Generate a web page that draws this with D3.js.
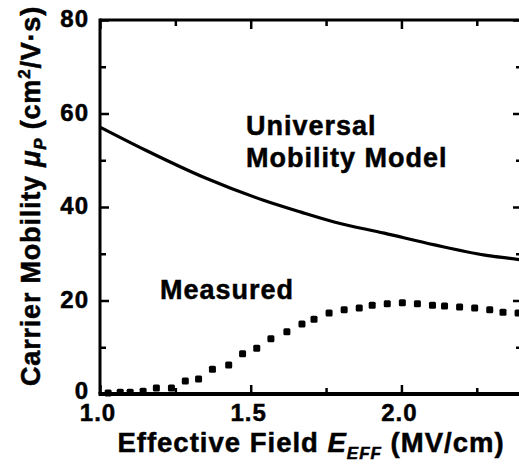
<!DOCTYPE html>
<html lang="en">
<head>
  <title>Carrier Mobility vs Effective Field</title>
  <meta charset="utf-8">
  <style>
    body { margin: 0; background: #fff; }
    svg text { font-family: "Liberation Sans", Arial, sans-serif; font-weight: bold; fill: #000;
               stroke: #000; stroke-width: 0.5px; }
    .axis path, .axis line { stroke: #000; }
  </style>
  <script src="https://d3js.org/d3.v7.min.js"></script>
</head>
<body>
<svg width="519" height="469"></svg>
<script>
// field values (MV/cm) and mobility (cm^2/V.s)
var modelField    = [1.0, 1.15, 1.35, 1.54, 1.667, 1.777, 1.943, 2.11, 2.277, 2.393, 2.42];
var modelMobility = [57.1, 52.2, 46.2, 41.5, 38.9, 36.8, 34.4, 31.9, 29.7, 28.7, 28.4];

var measField = [1.027, 1.067, 1.10, 1.143, 1.187, 1.237, 1.283, 1.327, 1.373, 1.427,
                 1.473, 1.520, 1.567, 1.620, 1.670, 1.710, 1.760, 1.810, 1.860, 1.903,
                 1.953, 2.003, 2.053, 2.103, 2.143, 2.193, 2.243, 2.293, 2.337, 2.387];
var measMobility = [0.2, 0.4, 0.4, 0.6, 1.3, 1.3, 2.8, 3.2, 5.3, 6.2,
                    8.6, 9.8, 11.8, 13.3, 15.0, 16.0, 17.3, 18.0, 18.4, 19.0,
                    19.3, 19.5, 19.3, 19.0, 18.8, 18.6, 18.4, 18.0, 17.5, 17.3];

var xMajor = [1.0, 1.5, 2.0];
var xMinor = [1.25, 1.75, 2.25];
var yMajor = [0, 20, 40, 60, 80];
var yMinor = [10, 30, 50, 70];

var svg = d3.select("svg"),
    pL = 100, pR = 522, pT = 20, pB = 394;

var x = d3.scaleLinear().domain([1.0, 2.4]).range([pL, pR]),
    y = d3.scaleLinear().domain([0, 80]).range([pB, pT]);

// frame ticks (pointing inward)
function ticks(g, axis, vals, len) {
  g.call(axis.tickValues(vals).tickSize(len).tickSizeOuter(0).tickFormat(""));
  g.select(".domain").remove();
  g.selectAll(".tick line").attr("stroke-width", 2.5);
}
[[xMajor, 9], [xMinor, 6]].forEach(function(t) {
  svg.append("g").attr("class", "axis").attr("transform", "translate(0," + pB + ")")
     .call(function(g) { ticks(g, d3.axisBottom(x), t[0], -t[1]); });
  svg.append("g").attr("class", "axis").attr("transform", "translate(0," + pT + ")")
     .call(function(g) { ticks(g, d3.axisTop(x), t[0], -t[1]); });
});
[[yMajor, 9], [yMinor, 6]].forEach(function(t) {
  svg.append("g").attr("class", "axis").attr("transform", "translate(" + pL + ",0)")
     .call(function(g) { ticks(g, d3.axisLeft(y), t[0], -t[1]); });
  svg.append("g").attr("class", "axis").attr("transform", "translate(" + pR + ",0)")
     .call(function(g) { ticks(g, d3.axisRight(y), t[0], -t[1]); });
});

// frame lines
svg.append("line").attr("x1", pL).attr("x2", pR).attr("y1", pT).attr("y2", pT)
   .attr("stroke", "#000").attr("stroke-width", 3);
svg.append("line").attr("x1", pL - 1.5).attr("x2", pR).attr("y1", pB).attr("y2", pB)
   .attr("stroke", "#000").attr("stroke-width", 4);
svg.append("line").attr("x1", pL).attr("x2", pL).attr("y1", pT - 1.5).attr("y2", pB)
   .attr("stroke", "#000").attr("stroke-width", 3);
svg.append("line").attr("x1", pR).attr("x2", pR).attr("y1", pT).attr("y2", pB)
   .attr("stroke", "#000").attr("stroke-width", 3);

// tick labels
svg.selectAll(".xl").data(xMajor).enter().append("text")
   .attr("x", function(d) { return x(d) - 2; })
   .attr("y", 421)
   .attr("text-anchor", "middle")
   .style("font-size", "24px")
   .style("letter-spacing", "1px")
   .text(function(d) { return d.toFixed(1); });

svg.selectAll(".yl").data(yMajor).enter().append("text")
   .attr("x", 89)
   .attr("y", function(d) { return y(d) + (d === 0 ? 5 : 7); })
   .attr("text-anchor", "end")
   .style("font-size", "24px")
   .style("letter-spacing", "1px")
   .text(function(d) { return d; });

// universal mobility model curve
var line = d3.line()
  .x(function(d, i) { return x(modelField[i]); })
  .y(function(d) { return y(d); })
  .curve(d3.curveMonotoneX);
svg.append("path").datum(modelMobility)
   .attr("d", line)
   .attr("fill", "none")
   .attr("stroke", "#000")
   .attr("stroke-width", 3.2);

// measured points
svg.selectAll(".pt").data(measMobility).enter().append("rect")
   .attr("x", function(d, i) { return x(measField[i]) - 3.5; })
   .attr("y", function(d) { return y(d) - 3.5; })
   .attr("width", 7).attr("height", 7)
   .attr("rx", 1.5)
   .attr("fill", "#000");

// annotations
svg.append("text").attr("x", 246).attr("y", 135)
   .style("font-size", "27px").style("letter-spacing", "1px").text("Universal");
svg.append("text").attr("x", 246).attr("y", 167)
   .style("font-size", "27px").style("letter-spacing", "1px").text("Mobility Model");
svg.append("text").attr("x", 160).attr("y", 299)
   .style("font-size", "27px").style("letter-spacing", "1px").text("Measured");

// x axis title
var xt = svg.append("text").attr("x", 311).attr("y", 452)
   .attr("text-anchor", "middle").style("font-size", "27.5px").style("letter-spacing", "1px");
xt.append("tspan").text("Effective Field ");
xt.append("tspan").style("font-style", "italic").text("E");
xt.append("tspan").attr("dy", 7).style("font-style", "italic").style("font-size", "17px").text("EFF");
xt.append("tspan").attr("dy", -7).text(" (MV/cm)");

// y axis title
var yt = svg.append("text")
   .attr("transform", "translate(40,196) rotate(-90)")
   .attr("text-anchor", "middle").style("font-size", "27px").style("letter-spacing", "0.8px");
yt.append("tspan").text("Carrier Mobility ");
yt.append("tspan").style("font-style", "italic").text("\u03bc");
yt.append("tspan").attr("dy", 6).style("font-style", "italic").style("font-size", "17px").text("P");
yt.append("tspan").attr("dy", -6).text(" (cm");
yt.append("tspan").attr("dy", -10).style("font-size", "17px").text("2");
yt.append("tspan").attr("dy", 10).text("/V\u00b7s)");
</script>
</body>
</html>
